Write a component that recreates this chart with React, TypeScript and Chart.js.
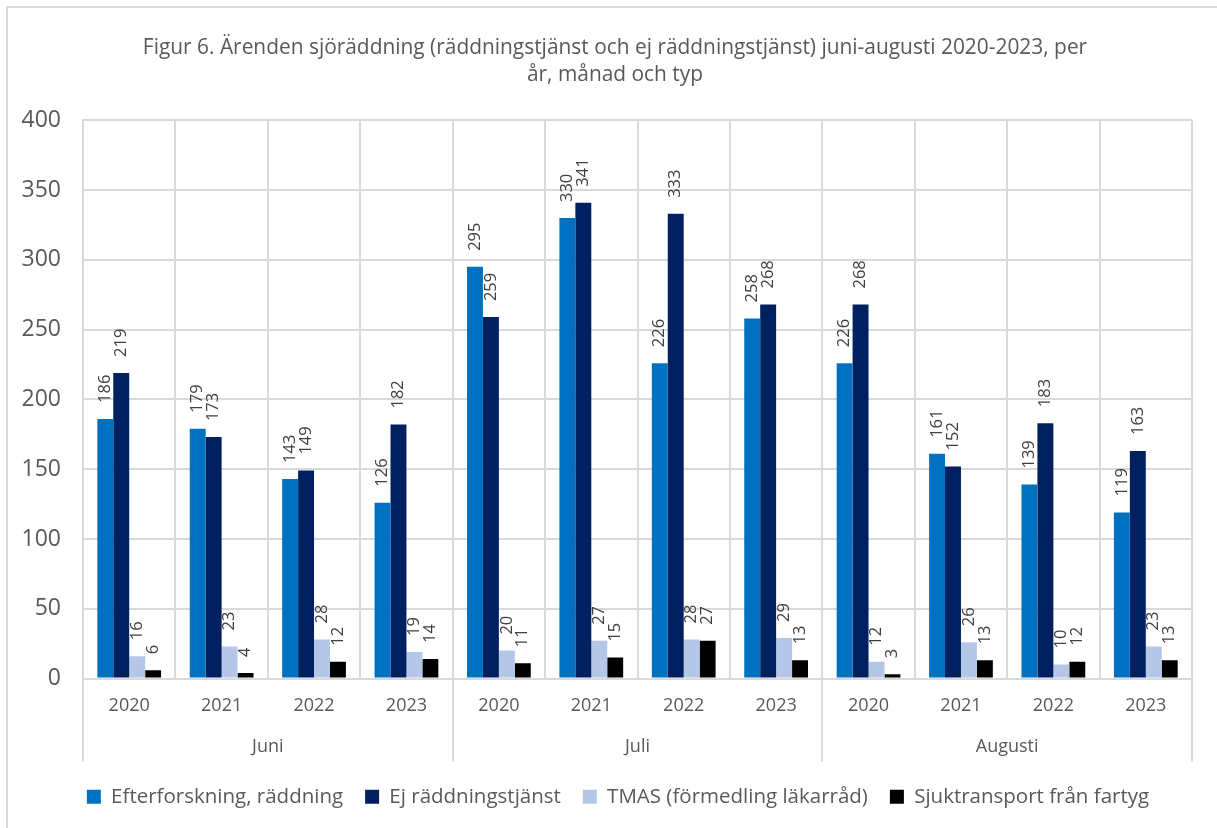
import React, { useEffect, useRef } from "react";
import { Chart, registerables } from "chart.js";

Chart.register(...registerables);

const years = ["2020", "2021", "2022", "2023", "2020", "2021", "2022", "2023", "2020", "2021", "2022", "2023"];
const months = ["Juni", "Juli", "Augusti"];
const yearsPerMonth = 4;

const efterforskning = [186, 179, 143, 126, 295, 330, 226, 258, 226, 161, 139, 119];
const ejRaddning = [219, 173, 149, 182, 259, 341, 333, 268, 268, 152, 183, 163];
const tmas = [16, 23, 28, 19, 20, 27, 28, 29, 12, 26, 10, 23];
const sjuktransport = [6, 4, 12, 14, 11, 15, 27, 13, 3, 13, 12, 13];

const seriesNames = [
  "Efterforskning, räddning",
  "Ej räddningstjänst",
  "TMAS (förmedling läkarråd)",
  "Sjuktransport från fartyg",
];
const seriesColors = ["#0070C0", "#002060", "#B4C7E7", "#000000"];

const titleLines = [
  "Figur 6. Ärenden sjöräddning (räddningstjänst och ej räddningstjänst) juni-augusti 2020-2023, per",
  "år, månad och typ",
];

const FONT = "'Open Sans', sans-serif";
const GRID = "#D9D9D9";
const TEXT = "#595959";

const extrasPlugin = {
  id: "extras",
  afterLayout(chart: any) {
    if (chart.titleBlock) {
      chart.titleBlock.left += 14;
      chart.titleBlock.right += 14;
    }
    if (chart.legend) {
      chart.legend.left += 17;
      chart.legend.right += 17;
    }
  },
  afterDatasetsDraw(chart: any) {
    const ctx = chart.ctx;
    ctx.save();
    ctx.font = `16.5px ${FONT}`;
    ctx.fillStyle = "#404040";
    ctx.textAlign = "left";
    ctx.textBaseline = "middle";
    chart.data.datasets.forEach((ds: any, i: number) => {
      const meta = chart.getDatasetMeta(i);
      meta.data.forEach((bar: any, j: number) => {
        ctx.save();
        ctx.translate(bar.x, bar.y - 16);
        ctx.rotate(-Math.PI / 2);
        ctx.fillText(String(ds.data[j]), 0, 0);
        ctx.restore();
      });
    });
    ctx.restore();
  },
  afterDraw(chart: any) {
    const ctx = chart.ctx;
    const x = chart.scales.x;
    const bottom = chart.chartArea.bottom;
    const n = years.length;
    const boundary = (i: number) => {
      if (i <= 0) return x.left;
      if (i >= n) return x.right;
      return (x.getPixelForValue(i - 1) + x.getPixelForValue(i)) / 2;
    };
    ctx.save();
    ctx.strokeStyle = GRID;
    ctx.lineWidth = 2;
    for (let m = 0; m <= months.length; m++) {
      const px = Math.round(boundary(m * yearsPerMonth));
      ctx.beginPath();
      ctx.moveTo(px, bottom);
      ctx.lineTo(px, bottom + 83);
      ctx.stroke();
    }
    ctx.font = `18px ${FONT}`;
    ctx.fillStyle = TEXT;
    ctx.textAlign = "center";
    ctx.textBaseline = "middle";
    months.forEach((m, k) => {
      const cx = (boundary(k * yearsPerMonth) + boundary((k + 1) * yearsPerMonth)) / 2;
      ctx.fillText(m, cx, bottom + 68);
    });
    ctx.restore();
  },
};

export default function App() {
  const ref = useRef<HTMLCanvasElement>(null);
  useEffect(() => {
    if (!ref.current) return;
    const seriesData = [efterforskning, ejRaddning, tmas, sjuktransport];
    const chart = new Chart(ref.current, {
      type: "bar",
      data: {
        labels: years,
        datasets: seriesData.map((d, i) => ({
          label: seriesNames[i],
          data: d,
          backgroundColor: seriesColors[i],
          borderWidth: 0,
          categoryPercentage: 0.69,
          barPercentage: 1.0,
        })),
      },
      options: {
        animation: false,
        responsive: false,
        maintainAspectRatio: false,
        layout: { padding: { left: 10, right: 25, top: 0, bottom: 11 } },
        plugins: {
          tooltip: { enabled: false },
          title: {
            display: true,
            text: titleLines,
            color: TEXT,
            font: { family: FONT, size: 20.9, weight: "normal", lineHeight: 1.3 },
            padding: { top: 34, bottom: 32 },
          },
          legend: {
            position: "bottom",
            labels: {
              boxWidth: 14,
              boxHeight: 14,
              color: TEXT,
              padding: 22,
              font: { family: FONT, size: 20.5 },
            },
          },
        },
        scales: {
          x: {
            type: "category",
            offset: true,
            grid: { offset: true, color: GRID, lineWidth: 2, drawTicks: false },
            border: { color: GRID, width: 2 },
            ticks: { color: TEXT, font: { family: FONT, size: 18 }, padding: 17, maxRotation: 0, autoSkip: false },
            afterFit(scale: any) {
              scale.height = 86;
            },
          },
          y: {
            min: 0,
            max: 400,
            ticks: { stepSize: 50, color: TEXT, font: { family: FONT, size: 23 }, padding: 22 },
            grid: { color: GRID, lineWidth: 2, drawTicks: false },
            border: { color: GRID, width: 2 },
            afterFit(scale: any) {
              scale.width = 73;
            },
          },
        },
      },
      plugins: [extrasPlugin],
    });
    return () => chart.destroy();
  }, []);
  return (
    <div style={{ position: "absolute", left: 0, top: 0, width: 1217, height: 828, background: "#fff" }}>
      <canvas ref={ref} width={1217} height={828} style={{ position: "absolute", left: 0, top: 0 }} />
      <div
        style={{
          position: "absolute",
          left: 6,
          top: 6,
          width: 1211,
          height: 822,
          borderLeft: "2px solid #D9D9D9",
          borderTop: "2px solid #D9D9D9",
          boxSizing: "border-box",
          pointerEvents: "none",
        }}
      />
    </div>
  );
}
